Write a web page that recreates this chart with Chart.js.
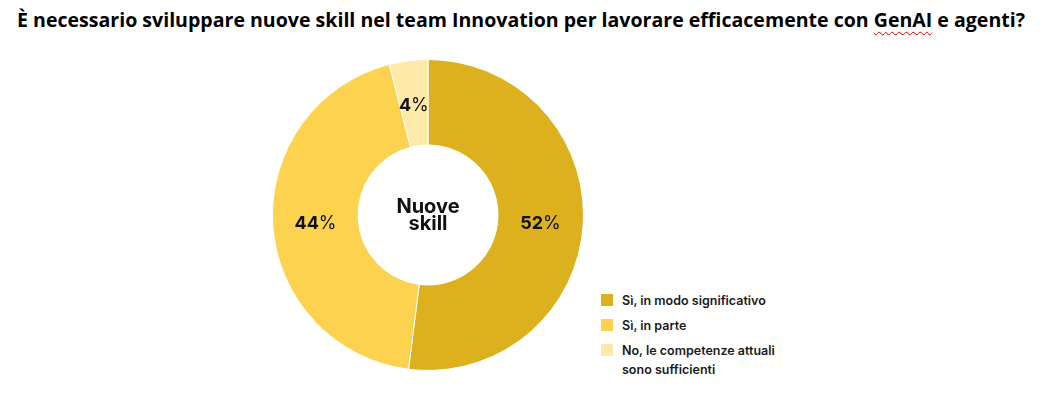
<!DOCTYPE html>
<html>
<head>
<meta charset="utf-8">
<script src="https://cdn.jsdelivr.net/npm/chart.js@4"></script>
<style>
  body { margin: 0; background: #fff; width: 1048px; height: 398px; overflow: hidden; position: relative; }
  #title { position: absolute; left: 17px; top: 6px; font: bold 20px "Open Sans", sans-serif; color: #000; white-space: nowrap; transform-origin: 0 0; }
  #title .sq { text-decoration: underline wavy #e00000; text-decoration-thickness: 1px; text-underline-offset: 4px; }
  #wrap { position: absolute; left: 272px; top: 59px; width: 312px; height: 312px; }
  #legend { position: absolute; left: 601px; top: 291px; font: 600 12.5px Inter, sans-serif; color: #1a1a1a; }
  .item { display: flex; align-items: flex-start; margin-bottom: 6px; line-height: 19px; }
  .box { width: 12px; height: 12px; margin: 3px 9px 0 0; flex: none; }
</style>
</head>
<body>
<div id="title">È necessario sviluppare nuove skill nel team Innovation per lavorare efficacemente con <span class="sq">GenAI</span> e agenti?</div>
<div id="wrap"><canvas id="skillChart" width="312" height="312"></canvas></div>
<div id="legend"></div>
<script>
const categories = ["Sì, in modo significativo", "Sì, in parte", "No, le competenze attuali\nsono sufficienti"];
const values = [52, 44, 4];
const colors = ["#DDB11E", "#FDD24E", "#FFE9A8"];
const centerLines = ["Nuove", "skill"];

// fit title to reference width
const title = document.getElementById("title");
title.style.transform = "scaleX(" + (1008 / title.scrollWidth) + ")";

// legend
const legend = document.getElementById("legend");
categories.forEach(function (c, i) {
  const row = document.createElement("div");
  row.className = "item";
  row.innerHTML = '<span class="box" style="background:' + colors[i] + '"></span><span>' + c.replace("\n", "<br>") + "</span>";
  legend.appendChild(row);
});

const labelPlugin = {
  id: "labels",
  afterDatasetsDraw(chart) {
    const ctx = chart.ctx;
    const meta = chart.getDatasetMeta(0);
    ctx.save();
    ctx.textBaseline = "middle";
    ctx.fillStyle = "#111";
    meta.data.forEach(function (arc, i) {
      const p = arc.tooltipPosition();
      const num = String(values[i]);
      ctx.font = "bold 18px Inter, sans-serif";
      const w1 = ctx.measureText(num).width;
      ctx.font = "18px Inter, sans-serif";
      const w2 = ctx.measureText("%").width;
      let x = p.x - (w1 + w2) / 2;
      ctx.textAlign = "left";
      ctx.font = "bold 18px Inter, sans-serif";
      ctx.fillText(num, x, p.y + 2);
      ctx.font = "18px Inter, sans-serif";
      ctx.fillText("%", x + w1, p.y + 2);
    });
    // centre text
    const cx = (chart.chartArea.left + chart.chartArea.right) / 2;
    const cy = (chart.chartArea.top + chart.chartArea.bottom) / 2;
    ctx.textAlign = "center";
    ctx.font = "bold 20px Inter, sans-serif";
    ctx.fillText(centerLines[0], cx, cy - 8);
    ctx.fillText(centerLines[1], cx, cy + 9);
    ctx.restore();
  },
};

function draw() {
  new Chart(document.getElementById("skillChart"), {
    type: "doughnut",
    data: {
      labels: categories,
      datasets: [
        {
          data: values,
          backgroundColor: colors,
          borderColor: "#fff",
          borderWidth: 1,
        },
      ],
    },
    options: {
      responsive: false,
      animation: false,
      cutout: "45%",
      layout: { padding: 0 },
      plugins: {
        legend: { display: false },
        tooltip: { enabled: false },
      },
    },
    plugins: [labelPlugin],
  });
}

Promise.all([
  document.fonts.load("bold 18px Inter"),
  document.fonts.load("18px Inter"),
]).then(draw, draw);
</script>
</body>
</html>
